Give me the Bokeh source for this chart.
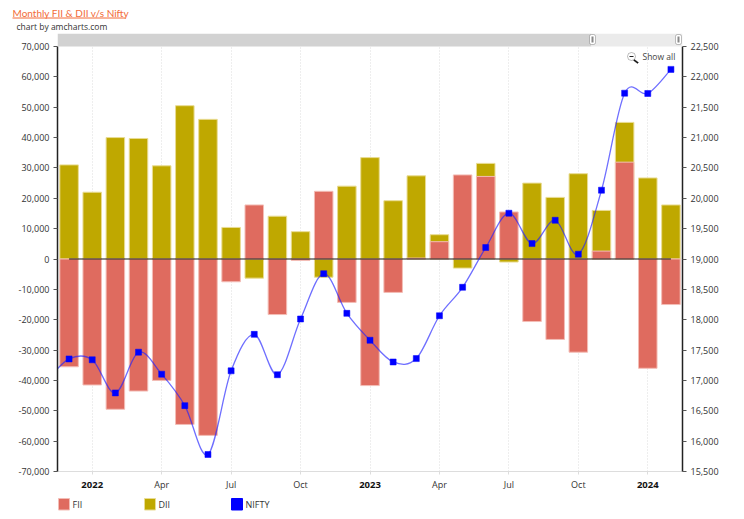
from bokeh.plotting import figure
from bokeh.embed import file_html
from bokeh.resources import INLINE
from bokeh.layouts import column
from bokeh.core.properties import value
from bokeh.models import (Range1d, LinearAxis, FixedTicker, BoxAnnotation, Label,
                          PolyAnnotation, ColumnDataSource, NumeralTickFormatter)

months = ["Dec 21", "Jan 22", "Feb 22", "Mar 22", "Apr 22", "May 22", "Jun 22", "Jul 22", "Aug 22",
          "Sep 22", "Oct 22", "Nov 22", "Dec 22", "Jan 23", "Feb 23", "Mar 23", "Apr 23", "May 23",
          "Jun 23", "Jul 23", "Aug 23", "Sep 23", "Oct 23", "Nov 23", "Dec 23", "Jan 24", "Feb 24"]
fii = [-35500, -41500, -49500, -43500, -40000, -54500, -58100, -7500, 17800, -18300, -500, 22300,
       -14300, -41700, -11000, 300, 5700, 27700, 27200, 15500, -20600, -26500, -30700, 2600, 31900,
       -36000, -15000]
dii = [31000, 22000, 40000, 39700, 30700, 50500, 46000, 10400, -6300, 14100, 9000, -6000, 24000,
       33400, 19200, 27400, 8000, -3000, 31500, -1000, 25000, 20300, 28100, 16000, 45000, 26700,
       17800]
nifty = [17354, 17340, 16794, 17465, 17103, 16585, 15780, 17158, 17759, 17094, 18012, 18758, 18105,
         17662, 17304, 17360, 18065, 18534, 19189, 19754, 19254, 19638, 19079, 20133, 21731, 21726,
         22123]
nifty_before = 16983  # Nov 21, the point just left of the visible window
month_ticks = {4: "Apr", 7: "Jul", 10: "Oct", 16: "Apr", 19: "Jul", 22: "Oct"}
year_ticks = {1: "2022", 13: "2023", 25: "2024"}
legend_names = ["FII", "DII", "NIFTY"]
legend_colors = ["#DF6B5F", "#BFA800", "#0000FF"]
legend_borders = ["#F3BDB6", "#E9DC93", "#0000FF"]
legend_lefts = [58, 144, 231]

FONT = "Open Sans"
TXT = "#333333"
W = 736
HEAD_H = 33          # page rows 0..33: title and credit
BODY_BOTTOM = 478    # last row of the main figure
FOOT_BOTTOM = 511
FL, FR, FT, FB = 57, 682, 46, 471   # the plot area proper, in page pixels
ORANGE = "#F26B38"

# ---------- header: title and credit ----------
head = figure(width=W, height=HEAD_H, output_backend="svg", toolbar_location=None,
              x_range=Range1d(0, W), y_range=Range1d(HEAD_H, 0), x_axis_type=None, y_axis_type=None,
              min_border=0, outline_line_color=None, frame_align=False)
head.grid.visible = False
head.text(x=[12], y=[12], text=["Monthly FII & DII v/s Nifty"], text_font=value("Lato"),
          text_font_size="10px", text_color=ORANGE, text_baseline="middle")
head.segment(x0=[12], x1=[125], y0=[17.5], y1=[17.5], line_color=ORANGE, line_width=1)
head.text(x=[16], y=[26], text=["chart by amcharts.com"], text_font=value(FONT),
          text_font_size="8.5px", text_color=TXT, text_baseline="middle")

# ---------- main chart: the frame starts at the scrollbar, axes stop at their value bounds ----------
per_px_left = 140000 / (FB - FT)
per_px_right = 7000 / (FB - FT)
top_extra = FT - HEAD_H

x = list(range(len(months)))
p = figure(width=W, height=BODY_BOTTOM - HEAD_H, output_backend="svg", toolbar_location=None,
           x_range=Range1d(-0.5, 26.5), y_range=Range1d(-70000, 70000 + top_extra * per_px_left),
           min_border_left=FL, min_border_right=W - FR, min_border_top=0,
           min_border_bottom=BODY_BOTTOM - FB, frame_align=False,
           background_fill_color="white", border_fill_color="white", outline_line_color=None)
p.extra_y_ranges["nifty"] = Range1d(15500, 22500 + top_extra * per_px_right)

p.ygrid.visible = False
all_ticks = sorted(list(month_ticks) + list(year_ticks))
p.xgrid.ticker = FixedTicker(ticks=all_ticks)
p.xgrid.grid_line_color = "#dddddd"
p.xgrid.grid_line_dash = "1 2"

ax = p.xaxis[0]
ax.ticker = FixedTicker(ticks=all_ticks)
ax.major_label_overrides = {t: "" for t in all_ticks}   # the labels live in the footer figure
ax.major_label_text_font_size = "1px"
ax.major_label_standoff = 0
ax.axis_line_color = "#dddddd"
ax.major_tick_line_color = "#dddddd"
ax.major_tick_in = 0
ax.major_tick_out = 3
ax.minor_tick_line_color = None

ly = p.yaxis[0]
ly.ticker = FixedTicker(ticks=list(range(-70000, 70001, 10000)))
ly.formatter = NumeralTickFormatter(format="0,0")
ly.bounds = (-70000, 70000)
ry = LinearAxis(y_range_name="nifty", ticker=FixedTicker(ticks=list(range(15500, 22501, 500))),
                formatter=NumeralTickFormatter(format="0,0"), bounds=(15500, 22500))
p.add_layout(ry, "right")
for a in (ly, ry):
    a.axis_line_color = "#222222"
    a.axis_line_width = 1.5
    a.major_tick_line_color = "#555555"
    a.major_tick_in = 0
    a.major_tick_out = 4
    a.minor_tick_line_color = None
    a.major_label_text_font = FONT
    a.major_label_text_font_size = "9px"
    a.major_label_text_color = TXT
    a.major_label_standoff = 4

src = ColumnDataSource(dict(x=x, fii=fii, dii=dii, nifty=nifty, zero=[0] * len(x)))
p.vbar(x="x", top="dii", bottom=0, width=0.8, source=src, fill_color="#BFA800",
       line_color="#E9DC93", line_width=1)
p.vbar(x="x", top="fii", bottom=0, width=0.8, source=src, fill_color="#DF6B5F",
       line_color="#F3BDB6", line_width=1)
p.line(x="x", y="zero", source=src, line_color="#000000", line_alpha=0.6, line_width=1.3)

# smoothed NIFTY line: Catmull-Rom segments through the monthly closes
px = [-1] + x
py = [nifty_before] + nifty
n = len(px)
seg = dict(x0=[], y0=[], x1=[], y1=[], cx0=[], cy0=[], cx1=[], cy1=[])
for i in range(n - 1):
    a, b = max(i - 1, 0), min(i + 2, n - 1)
    seg["x0"].append(px[i]); seg["y0"].append(py[i])
    seg["x1"].append(px[i + 1]); seg["y1"].append(py[i + 1])
    seg["cx0"].append(px[i] + (px[i + 1] - px[a]) / 6); seg["cy0"].append(py[i] + (py[i + 1] - py[a]) / 6)
    seg["cx1"].append(px[i + 1] - (px[b] - px[i]) / 6); seg["cy1"].append(py[i + 1] - (py[b] - py[i]) / 6)
p.bezier(x0="x0", y0="y0", x1="x1", y1="y1", cx0="cx0", cy0="cy0", cx1="cx1", cy1="cy1",
         source=ColumnDataSource(seg), y_range_name="nifty", line_color="#2222ff", line_alpha=0.65,
         line_width=1.3)
p.scatter(x="x", y="nifty", source=src, y_range_name="nifty", marker="square", size=6,
          fill_color="#0000FF", line_color="#0000FF", line_width=0.5)

# Screen units of annotations count from the frame's lower left corner; these helpers take page pixels.
def box(l, r, t, b, **kw):
    return BoxAnnotation(left=l - FL, right=r - FL, top=FB - t, bottom=FB - b, left_units="screen",
                         right_units="screen", top_units="screen", bottom_units="screen",
                         level="overlay", **kw)

# scrollbar and zoom-out control, inside the frame's top strip
p.add_layout(box(FL, 591, HEAD_H, FT, fill_color="#D2D2D2", fill_alpha=1, line_color=None))
p.add_layout(box(591, FR, HEAD_H, FT, fill_color="#EBEBEB", fill_alpha=1, line_color=None))
for cx in (592, 678):
    p.add_layout(box(cx - 3, cx + 3, 34, 44, fill_color="#FFFFFF", fill_alpha=1, line_color="#333333",
                     line_width=1, border_radius=2))
    p.add_layout(box(cx - 1, cx + 1, 36, 42, fill_color="#888888", fill_alpha=1, line_color=None))

p.add_layout(Label(x=642 - FL, y=FB - 56, x_units="screen", y_units="screen", text="Show all",
                   text_baseline="middle", text_font=FONT, text_font_size="8.5px", text_color="#444444"))
p.add_layout(box(627, 635, 52, 60, fill_color="#FFFFFF", fill_alpha=1, line_color="#222222",
                 line_width=1, border_radius=4))
p.add_layout(box(629, 633, 55.5, 56.5, fill_color="#222222", fill_alpha=1, line_color=None))
p.add_layout(PolyAnnotation(xs=[634 - FL, 638 - FL, 637 - FL, 633 - FL], ys=[FB - 59, FB - 62, FB - 63, FB - 60],
                            xs_units="screen", ys_units="screen",
                            fill_color="#111111", fill_alpha=1, line_color="#111111", level="overlay"))

# ---------- footer: x tick labels and legend ----------
FOOT_H = FOOT_BOTTOM - BODY_BOTTOM
unit = (FR - FL) / 27
foot = figure(width=W, height=FOOT_H, output_backend="svg", toolbar_location=None,
              x_range=Range1d(-0.5 - FL / unit, 26.5 + (W - FR) / unit),
              y_range=Range1d(FOOT_BOTTOM, BODY_BOTTOM), x_axis_type=None, y_axis_type=None,
              min_border=0, outline_line_color=None, frame_align=False)
foot.grid.visible = False
foot.text(x=list(month_ticks), y=[484] * len(month_ticks), text=list(month_ticks.values()),
          text_font=value(FONT), text_font_size="9px", text_color=TXT, text_align="center",
          text_baseline="middle")
foot.text(x=list(year_ticks), y=[484] * len(year_ticks), text=list(year_ticks.values()),
          text_font=value(FONT), text_font_size="9.5px", text_font_style="bold", text_color="#111111",
          text_align="center", text_baseline="middle")
to_x = lambda pix: (pix - FL) / unit - 0.5
foot.quad(left=[to_x(l) for l in legend_lefts], right=[to_x(l + 11) for l in legend_lefts],
          top=[498] * 3, bottom=[509.5] * 3, fill_color=legend_colors, line_color=legend_borders, line_width=1)
foot.text(x=[to_x(l + 14) for l in legend_lefts], y=[504] * 3, text=legend_names,
          text_font=value(FONT), text_font_size="9px", text_color=TXT, text_baseline="middle")

page = column(head, p, foot, spacing=0)
open("out.html", "w").write(file_html(page, INLINE))
